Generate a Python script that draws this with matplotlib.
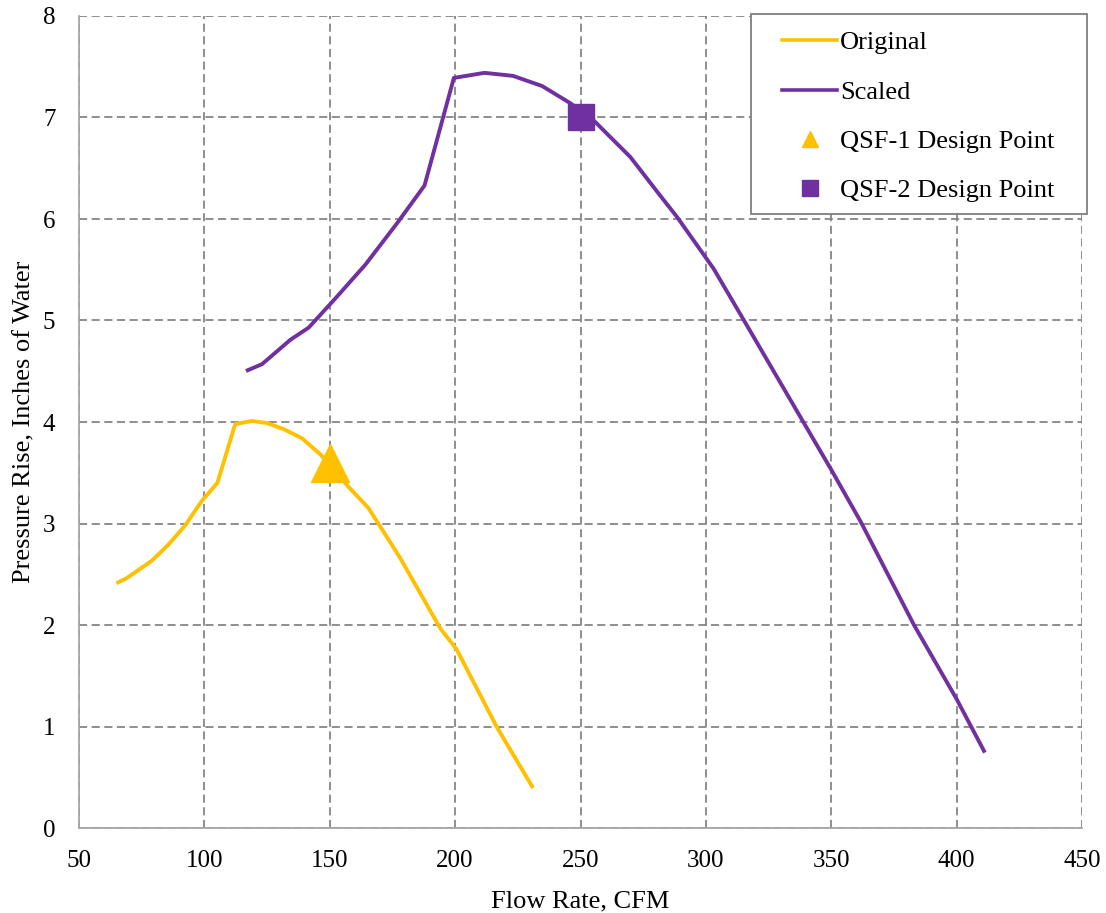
import matplotlib
matplotlib.use("Agg")
import matplotlib.pyplot as plt
from matplotlib.lines import Line2D
from matplotlib.patches import Rectangle

plt.rcParams['font.family'] = ['Liberation Serif', 'DejaVu Serif']

# Fan curves (CFM, inches of water)
orig_x = [65.6, 68.9, 78.9, 85.6, 92.3, 98.9, 105.2, 112.3, 118.9, 124.9, 131.6,
          138.9, 146.3, 154.9, 165.5, 178.1, 194.0, 200.6, 216.5, 230.7]
orig_y = [2.42, 2.46, 2.63, 2.79, 2.98, 3.22, 3.40, 3.98, 4.01, 3.99, 3.93,
          3.84, 3.68, 3.43, 3.15, 2.66, 1.97, 1.76, 1.00, 0.41]

scaled_x = [117.3, 123.0, 134.3, 141.6, 151.6, 164.2, 176.9, 187.8, 199.5, 211.7,
            223.1, 234.7, 246.0, 255.3, 269.9, 281.8, 288.5, 303.1, 316.4, 339.1,
            350.0, 361.7, 383.0, 400.0, 410.9]
scaled_y = [4.51, 4.57, 4.81, 4.93, 5.20, 5.55, 5.96, 6.33, 7.39, 7.44,
            7.41, 7.31, 7.14, 6.97, 6.61, 6.23, 6.02, 5.51, 4.95, 3.99,
            3.53, 3.02, 2.00, 1.27, 0.76]

qsf1_point = (150, 3.6)
qsf2_point = (250, 7.0)

series_names = ["Original", "Scaled", "QSF-1 Design Point", "QSF-2 Design Point"]

YELLOW = "#FFC000"
PURPLE = "#7030A0"
FS_TICK = 18
FS = 19
W, H = 1106, 913

fig = plt.figure(figsize=(W / 100, H / 100), dpi=100)
ax = fig.add_axes([79 / W, 1 - 828 / H, (1082 - 79) / W, (828 - 16) / H])

ax.plot(orig_x, orig_y, color=YELLOW, lw=2.8, zorder=3)
ax.plot(scaled_x, scaled_y, color=PURPLE, lw=2.8, zorder=3)
ax.plot([qsf1_point[0]], [qsf1_point[1]], marker='^', ms=27, color=YELLOW, ls='none', zorder=4)
ax.plot([qsf2_point[0]], [qsf2_point[1]], marker='s', ms=19, color=PURPLE, ls='none', zorder=4)

ax.set_xlim(50, 450)
ax.set_ylim(0, 8)
ax.set_xticks(range(50, 451, 50))
ax.set_yticks(range(0, 9))
ax.grid(True, color="#868686", ls=(0, (4.5, 2.5)), lw=1.3)
ax.set_axisbelow(True)
for side in ["top", "right"]:
    ax.spines[side].set_visible(False)
for side in ["left", "bottom"]:
    ax.spines[side].set_color("#A6A6A6")
    ax.spines[side].set_linewidth(1.3)
ax.tick_params(length=0, labelsize=FS_TICK, colors="black")
ax.tick_params(axis='y', pad=17)
ax.tick_params(axis='x', pad=16)

ax.set_xlabel("Flow Rate, CFM", fontsize=FS, labelpad=13)
ax.set_ylabel("Pressure Rise, Inches of Water", fontsize=FS, labelpad=5)

# legend frame drawn by hand so the padding matches the original box
fig.patches.append(Rectangle((751 / W, 1 - 214 / H), (1087 - 751) / W, 200 / H,
                             transform=fig.transFigure, facecolor="white",
                             edgecolor="#7F7F7F", lw=1.3, zorder=5))
handles = [
    Line2D([], [], color=YELLOW, lw=2.6),
    Line2D([], [], color=PURPLE, lw=2.6),
    Line2D([], [], color=YELLOW, marker='^', ms=12, ls='none'),
    Line2D([], [], color=PURPLE, marker='s', ms=11.5, ls='none'),
]
leg = fig.legend(handles, series_names, loc="upper left",
                 bbox_to_anchor=(782 / W, 1 - 31 / H),
                 fontsize=FS, frameon=False, borderpad=0, labelspacing=0.98,
                 handlelength=2.1, handletextpad=0.1, borderaxespad=0)
leg.set_zorder(6)

fig.savefig("out.png", dpi=100)
